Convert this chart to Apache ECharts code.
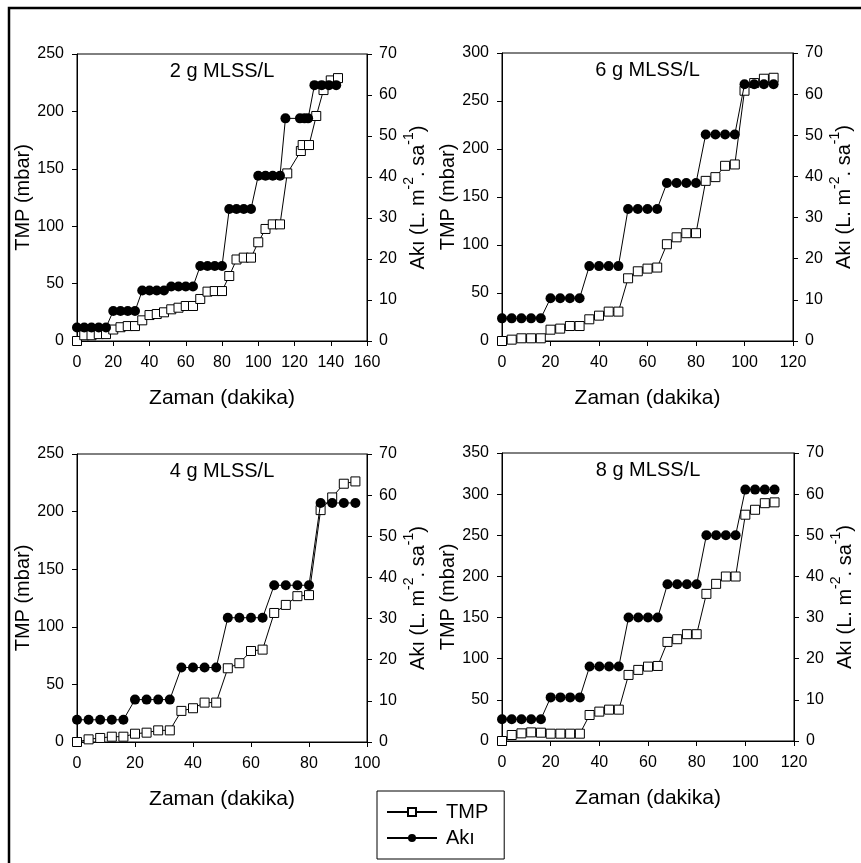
<!DOCTYPE html>
<html>
<head>
<meta charset="utf-8">
<script src="https://cdn.jsdelivr.net/npm/echarts@6/dist/echarts.min.js"></script>
<style>html,body{margin:0;padding:0;background:#fff;}#c{width:861px;height:863px;}</style>
</head>
<body>
<div id="c"></div>
<script>
// ---------- DATA ----------
const panelTitles = ['2 g MLSS/L', '6 g MLSS/L', '4 g MLSS/L', '8 g MLSS/L'];
const xMax = [160, 120, 100, 120];
const tmpMax = [250, 300, 250, 350];
const akiMax = 70;

// Panel 1: 2 g MLSS/L
const p1TmpTime = [0,4,8,12,16,20,24,28,32,36,40,44,48,52,56,60,64,68,72,76,80,84,88,92,96,100,104,108,112,116,123.5,124.5,128,132,136,140,144];
const p1Tmp = [0,5,5,6,6,10,12,13,13,18,22.6,23.5,25,27.6,29,30.5,30.5,36.6,43,43.5,43.5,56.6,71,72.6,72.6,86,97.6,101.6,101.6,146,165.5,170.7,170.7,196,218.6,227,229];
const p1AkiTime = [0,4,8,12,16,20,24,28,32,36,40,44,48,52,56,60,64,68,72,76,80,84,88,92,96,100,104,108,112,115,123,125.5,127.5,131,135,139,143];
const p1Aki = [3.3,3.3,3.3,3.3,3.3,7.3,7.3,7.3,7.3,12.3,12.3,12.3,12.3,13.3,13.3,13.3,13.3,18.3,18.3,18.3,18.3,32.2,32.2,32.2,32.2,40.3,40.3,40.3,40.3,54.3,54.3,54.3,54.3,62.4,62.4,62.4,62.4];

// Panel 2: 6 g MLSS/L
const p2Time = [0,4,8,12,16,20,24,28,32,36,40,44,48,52,56,60,64,68,72,76,80,84,88,92,96,100,104,108,112];
const p2Tmp = [0,1.4,2.8,2.8,2.8,11.8,12.9,15.6,15.6,22.6,26.4,30.6,30.6,65.3,72.6,75.4,76.5,100.8,108,112.3,112.3,166.8,170.7,182.5,183.9,260.7,268.7,273.2,274.2];
const p2Aki = [5.5,5.5,5.5,5.5,5.5,10.4,10.4,10.4,10.4,18.2,18.2,18.2,18.2,32.1,32.1,32.1,32.1,38.4,38.4,38.4,38.4,50.2,50.2,50.2,50.2,62.4,62.4,62.4,62.4];

// Panel 3: 4 g MLSS/L
const p3Time = [0,4,8,12,16,20,24,28,32,36,40,44,48,52,56,60,64,68,72,76,80,84,88,92,96];
const p3Tmp = [0,2.3,3.5,4.6,4.6,7.2,8.1,10.1,10.1,27,29.3,34.2,34.2,64,68.4,79,80.2,112,119,126.6,127.5,201.3,212.3,224.2,226.2];
const p3Aki = [5.4,5.4,5.4,5.4,5.4,10.3,10.3,10.3,10.3,18.1,18.1,18.1,18.1,30.2,30.2,30.2,30.2,38.1,38.1,38.1,38.1,58.1,58.1,58.1,58.1];

// Panel 4: 8 g MLSS/L
const p4Time = [0,4,8,12,16,20,24,28,32,36,40,44,48,52,56,60,64,68,72,76,80,84,88,92,96,100,104,108,112];
const p4Tmp = [0,7.3,9.3,10.5,10.1,8.9,8.9,8.9,8.9,31.6,35.7,38.1,38.1,80.3,86.4,90.4,91.2,120.4,123.7,129.8,129.8,178.8,191,199.9,199.9,275,281,289,290];
const p4Aki = [5.3,5.3,5.3,5.3,5.3,10.6,10.6,10.6,10.6,18.1,18.1,18.1,18.1,30,30,30,30,38.1,38.1,38.1,38.1,50,50,50,50,61.1,61.1,61.1,61.1];

// ---------- CHART ----------
const FONT = '"Liberation Sans", Arial, Helvetica, sans-serif';
const pair = (xs, ys) => xs.map((x, i) => [x, ys[i]]);
const panels = [
  {tmp: pair(p1TmpTime, p1Tmp), aki: pair(p1AkiTime, p1Aki)},
  {tmp: pair(p2Time, p2Tmp), aki: pair(p2Time, p2Aki)},
  {tmp: pair(p3Time, p3Tmp), aki: pair(p3Time, p3Aki)},
  {tmp: pair(p4Time, p4Tmp), aki: pair(p4Time, p4Aki)}
];
const grids = [
  {left: 77, top: 54, width: 290, height: 287},
  {left: 502, top: 53, width: 291, height: 288},
  {left: 77, top: 454, width: 290, height: 288},
  {left: 502, top: 453, width: 292, height: 288}
];
const axisLine = {show: true, lineStyle: {color: '#000', width: 1}};
const axisTick = {show: true, inside: false, length: 5, lineStyle: {color: '#000', width: 1}};
const labelStyle = {color: '#000', fontSize: 16, fontFamily: FONT};

const option = {
  animation: false,
  backgroundColor: '#fff',
  grid: grids.map(g => Object.assign({show: true, borderColor: '#000', borderWidth: 1, backgroundColor: 'transparent', containLabel: false}, g)),
  xAxis: grids.map((g, i) => ({
    type: 'value', gridIndex: i, min: 0, max: xMax[i], interval: 20,
    axisLine, axisTick, splitLine: {show: false},
    axisLabel: Object.assign({margin: 14}, labelStyle),
    name: 'Zaman (dakika)', nameLocation: 'middle', nameGap: 47,
    nameTextStyle: {color: '#000', fontSize: 21, fontFamily: FONT}
  })),
  yAxis: [].concat(...grids.map((g, i) => [
    {
      type: 'value', gridIndex: i, position: 'left', min: 0, max: tmpMax[i], interval: 50,
      axisLine, axisTick, splitLine: {show: false},
      axisLabel: Object.assign({margin: 13}, labelStyle),
      name: 'TMP (mbar)', nameLocation: 'middle', nameGap: 44,
      nameTextStyle: {color: '#000', fontSize: 20, fontFamily: FONT}
    },
    {
      type: 'value', gridIndex: i, position: 'right', min: 0, max: akiMax, interval: 10,
      axisLine, axisTick, splitLine: {show: false},
      axisLabel: Object.assign({margin: 12}, labelStyle),
      name: '{n|Akı (L. m}{s|-2}{n|. sa}{s|-1}{n|)}', nameLocation: 'middle', nameGap: 35,
      nameTextStyle: {
        color: '#000', fontSize: 20, fontFamily: FONT,
        rich: {
          n: {fontSize: 20, fontFamily: FONT, color: '#000', lineHeight: 26, verticalAlign: 'bottom'},
          s: {fontSize: 14, fontFamily: FONT, color: '#000', lineHeight: 14, verticalAlign: 'top'}
        }
      }
    }
  ])),
  legend: {
    orient: 'vertical', left: 377, top: 791,
    data: ['TMP', 'Akı'],
    itemWidth: 50, itemHeight: 10, itemGap: 6,
    padding: [11, 16, 11, 9],
    borderColor: '#000', borderWidth: 1, borderRadius: 0,
    textStyle: {color: '#000', fontSize: 20, fontFamily: FONT, padding: [0, 0, 0, 4]}
  },
  series: [].concat(...panels.map((p, i) => [
    {
      name: 'TMP', type: 'line', xAxisIndex: i, yAxisIndex: 2 * i,
      data: p.tmp, symbol: 'rect', symbolSize: 9, showSymbol: true,
      lineStyle: {color: '#000', width: 1},
      itemStyle: {color: '#fff', borderColor: '#000', borderWidth: 1},
      emphasis: {disabled: true}, z: 2
    },
    {
      name: 'Akı', type: 'line', xAxisIndex: i, yAxisIndex: 2 * i + 1,
      data: p.aki, symbol: 'circle', symbolSize: 10, showSymbol: true,
      lineStyle: {color: '#000', width: 1},
      itemStyle: {color: '#000', borderColor: '#000', borderWidth: 0},
      emphasis: {disabled: true}, z: 3
    }
  ])),
  graphic: [
    {type: 'polyline', shape: {points: [[9, 863], [9, 8], [861, 8]]}, style: {stroke: '#000', lineWidth: 2.5, fill: null}, silent: true},
    ...grids.map((g, i) => ({
      type: 'text', x: g.left + g.width / 2, y: g.top + 17,
      style: {text: panelTitles[i], fontSize: 20, fontFamily: FONT, fill: '#000', textAlign: 'center', textVerticalAlign: 'middle'},
      silent: true
    }))
  ]
};
const chart = echarts.init(document.getElementById('c'), null, {renderer: 'canvas'});
chart.setOption(option);
</script>
</body>
</html>
